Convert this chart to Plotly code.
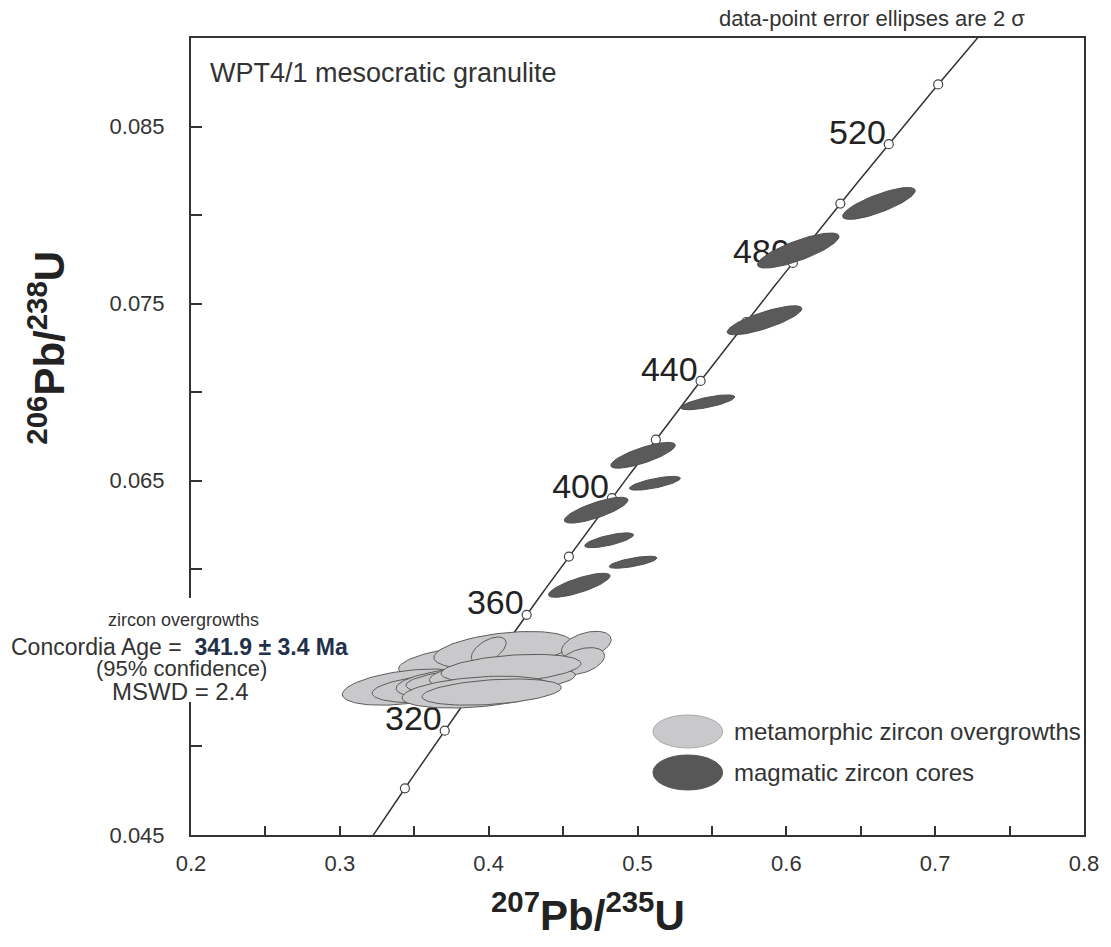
import numpy as np
import plotly.graph_objects as go

# ---------------- data ----------------
# axis
X_RANGE = [0.2, 0.8]
Y_RANGE = [0.045, 0.09]
x_tickvals = [0.2, 0.3, 0.4, 0.5, 0.6, 0.7, 0.8]
x_ticktext = ["0.2", "0.3", "0.4", "0.5", "0.6", "0.7", "0.8"]
x_minor = [0.25, 0.35, 0.45, 0.55, 0.65, 0.75]
y_tickvals = [0.045, 0.055, 0.065, 0.075, 0.085]
y_ticktext = ["0.045", "0.055", "0.065", "0.075", "0.085"]
y_minor = [0.05, 0.06, 0.07, 0.08]

# concordia (decay constants, 1/yr)
LAMBDA_238 = 1.55125e-10
LAMBDA_235 = 9.8485e-10
curve_age_min, curve_age_max = 270, 570          # Ma
marker_ages = [300, 320, 340, 360, 380, 400, 420, 440, 460, 480, 500, 520, 540]
label_ages = [320, 360, 400, 440, 480, 520]

# magmatic zircon cores (dark ellipses): centre, 2-sigma half widths, correlation
core_x = [0.6622, 0.6080, 0.5853, 0.5472, 0.5037, 0.5117, 0.4722, 0.4809, 0.4970, 0.4609]
core_y = [0.08066, 0.0780, 0.07406, 0.06943, 0.06644, 0.06486, 0.06334, 0.06164, 0.0604, 0.0591]
core_sx = [0.0244, 0.0274, 0.0251, 0.0181, 0.0217, 0.0171, 0.0214, 0.0164, 0.0161, 0.0207]
core_sy = [0.00090, 0.00099, 0.00082, 0.00042, 0.00073, 0.00039, 0.00073, 0.00042, 0.00034, 0.00068]
core_rho = [0.80, 0.80, 0.80, 0.72, 0.78, 0.72, 0.78, 0.72, 0.70, 0.78]

# metamorphic zircon overgrowths (light ellipses)
rim_x = [0.3987, 0.4094, 0.4000, 0.4656, 0.4622, 0.3452, 0.3652, 0.3779, 0.4013, 0.3980,
         0.4150, 0.3920, 0.4020]
rim_y = [0.05482, 0.05544, 0.05544, 0.05572, 0.05482, 0.05335, 0.05329, 0.05358, 0.05374, 0.05403,
         0.05440, 0.05307, 0.05307]
rim_sx = [0.0592, 0.0462, 0.0117, 0.0167, 0.0157, 0.0435, 0.0435, 0.0401, 0.0569, 0.0378,
          0.0470, 0.0502, 0.0468]
rim_sy = [0.00108, 0.00105, 0.00074, 0.00078, 0.00076, 0.00102, 0.00082, 0.00086, 0.00082, 0.00078,
          0.00080, 0.00090, 0.00074]
rim_rho = [0.40, 0.40, 0.55, 0.40, 0.40, 0.40, 0.35, 0.35, 0.35, 0.35, 0.35, 0.35, 0.35]

# ---------------- helpers ----------------
FONT = "Liberation Sans, Arial, sans-serif"
PLOT_L, PLOT_R, PLOT_T, PLOT_B = 191, 1088, 38, 835   # plot area in pixels
W_FIG, H_FIG = 1111, 947
PW, PH = PLOT_R - PLOT_L, PLOT_B - PLOT_T


def px_x(px):
    return (px - PLOT_L) / PW


def px_y(py):
    return (PLOT_B - py) / PH


def concordia(age_ma):
    t = np.asarray(age_ma, dtype=float) * 1e6
    return np.exp(LAMBDA_235 * t) - 1, np.exp(LAMBDA_238 * t) - 1


def ellipse(cx, cy, sx, sy, rho, n=90):
    th = np.linspace(0, 2 * np.pi, n)
    x = cx + sx * np.cos(th)
    y = cy + sy * (rho * np.cos(th) + np.sqrt(1 - rho ** 2) * np.sin(th))
    return x, y


fig = go.Figure()

# concordia curve
ages = np.linspace(curve_age_min, curve_age_max, 300)
cx_, cy_ = concordia(ages)
fig.add_trace(go.Scatter(x=cx_, y=cy_, mode="lines", line=dict(color="#333333", width=1.5),
                         hoverinfo="skip", showlegend=False))
mx, my = concordia(marker_ages)
fig.add_trace(go.Scatter(x=mx, y=my, mode="markers",
                         marker=dict(size=9, color="white", line=dict(color="#444444", width=1.2)),
                         showlegend=False))
lx, ly = concordia(label_ages)
fig.add_trace(go.Scatter(x=lx - 0.002, y=ly + 0.0005, mode="text", text=[str(a) for a in label_ages],
                         textposition="middle left",
                         textfont=dict(family=FONT, size=34, color="#222222"), showlegend=False))

# ellipses
for i in range(len(core_x)):
    ex, ey = ellipse(core_x[i], core_y[i], core_sx[i], core_sy[i], core_rho[i])
    fig.add_trace(go.Scatter(x=ex, y=ey, mode="lines", fill="toself", fillcolor="#5a5a5a",
                             line=dict(color="#505050", width=1), showlegend=False, hoverinfo="skip"))
for i in range(len(rim_x)):
    ex, ey = ellipse(rim_x[i], rim_y[i], rim_sx[i], rim_sy[i], rim_rho[i])
    fig.add_trace(go.Scatter(x=ex, y=ey, mode="lines", fill="toself", fillcolor="#c9c9cb",
                             line=dict(color="#5c5c5c", width=1), showlegend=False, hoverinfo="skip"))

axis_common = dict(showgrid=False, zeroline=False, showline=True, linecolor="#333333", linewidth=2,
                   mirror=True, ticks="inside", tickcolor="#333333", tickwidth=1.5,
                   tickfont=dict(family=FONT, size=22, color="#333333"))

fig.update_xaxes(range=X_RANGE, tickvals=x_tickvals, ticktext=x_ticktext, ticklen=9,
                 ticklabelstandoff=8, ticklabeloverflow="allow",
                 minor=dict(tickvals=x_minor, ticks="inside", ticklen=9, tickwidth=1.5, tickcolor="#333333"),
                 **axis_common)
fig.update_yaxes(range=Y_RANGE, tickvals=y_tickvals, ticktext=y_ticktext, ticklen=11,
                 ticklabelstandoff=20,
                 minor=dict(tickvals=y_minor, ticks="inside", ticklen=11, tickwidth=1.5, tickcolor="#333333"),
                 **axis_common)

shapes = [
    # white mask where the text block interrupts the y axis
    dict(type="rect", xref="paper", yref="paper", x0=px_x(0), x1=px_x(203), y0=px_y(702), y1=px_y(598),
         fillcolor="white", line=dict(width=0), layer="above"),
    # legend symbols
    dict(type="circle", xref="paper", yref="paper", x0=px_x(655), x1=px_x(725), y0=px_y(748), y1=px_y(715),
         fillcolor="#c9c9cb", line=dict(color="#aaaaaa", width=1)),
    dict(type="circle", xref="paper", yref="paper", x0=px_x(655), x1=px_x(725), y0=px_y(790), y1=px_y(755),
         fillcolor="#575757", line=dict(color="#575757", width=1)),
]

ann = []


def add_text(text, x, y, size, xanchor="center", yanchor="middle", color="#333333", angle=0):
    ann.append(dict(text=text, x=px_x(x), y=px_y(y), xref="paper", yref="paper", showarrow=False,
                    xanchor=xanchor, yanchor=yanchor, textangle=angle,
                    font=dict(family=FONT, size=size, color=color)))


add_text("WPT4/1 mesocratic granulite", 208, 73, 27, xanchor="left", color="#333333")
add_text("data-point error ellipses are 2 σ", 1031, 18, 22, xanchor="right", color="#333333")
add_text("zircon overgrowths", 183, 620, 18)
add_text("Concordia Age =  <b><span style='color:#23304a'>341.9 ± 3.4 Ma</span></b>", 179, 647, 23)
add_text("(95% confidence)", 181, 668, 22)
add_text("MSWD = 2.4", 180, 691, 24)
add_text("metamorphic zircon overgrowths", 734, 731, 24, xanchor="left")
add_text("magmatic zircon cores", 734, 772, 24, xanchor="left")
add_text("<b><sup>207</sup>Pb/<sup>235</sup>U</b>", 590, 912, 42, color="#222222")
add_text("<b><sup>206</sup>Pb/<sup>238</sup>U</b>", 46, 348, 42, color="#222222", angle=-90)

fig.update_layout(width=W_FIG, height=H_FIG,
                  margin=dict(l=PLOT_L, r=W_FIG - PLOT_R, t=PLOT_T, b=H_FIG - PLOT_B),
                  paper_bgcolor="white", plot_bgcolor="white", showlegend=False,
                  shapes=shapes, annotations=ann, font=dict(family=FONT))

fig.write_html("out.html", config={"displayModeBar": False},
               post_script="document.body.style.margin='0';document.body.style.overflow='hidden';")
